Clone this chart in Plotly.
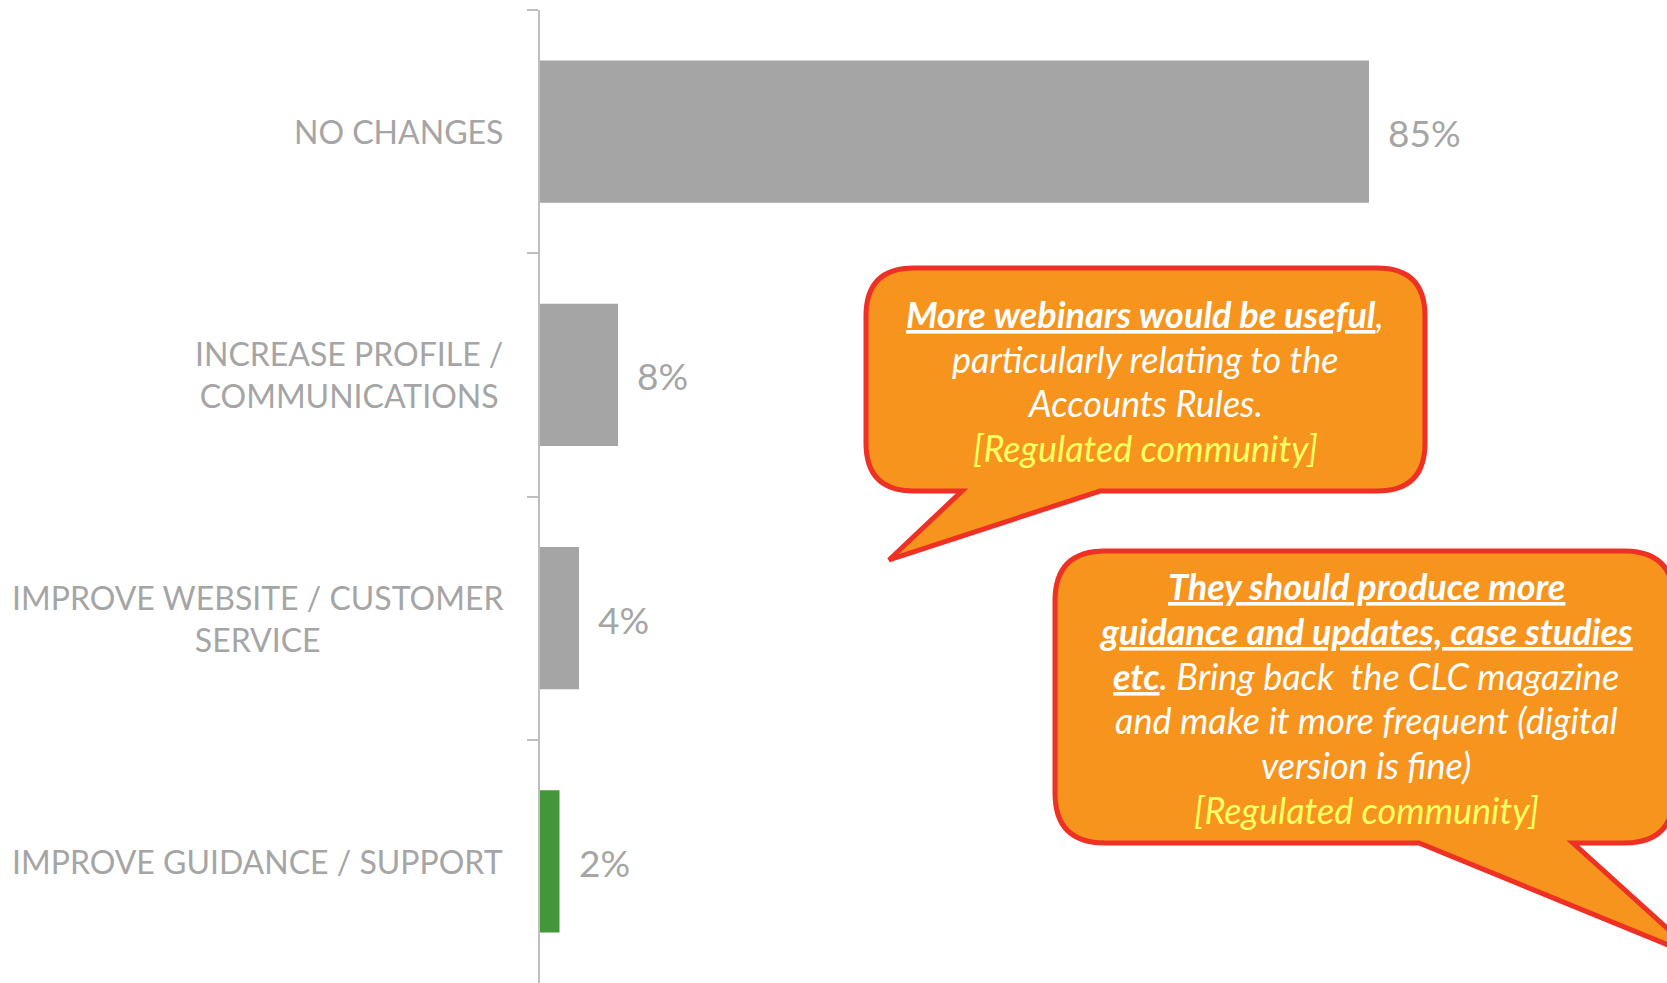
import plotly.graph_objects as go

categories = ["NO CHANGES",
              "INCREASE PROFILE /<br>COMMUNICATIONS",
              "IMPROVE WEBSITE / CUSTOMER<br>SERVICE",
              "IMPROVE GUIDANCE / SUPPORT"]
values = [85, 8, 4, 2]
value_labels = ["85%", "8%", "4%", "2%"]
bar_colors = ["#A5A5A5", "#A5A5A5", "#A5A5A5", "#43963A"]

YELLOW = "#FFFF66"
quote1_lines = ["<b><u>More webinars would be useful</u></b>,",
                "particularly relating to the",
                "Accounts Rules.",
                "<span style='color:%s'>[Regulated community]</span>" % YELLOW]
quote2_lines = ["<b><u>They should produce more</u></b>",
                "<b><u>guidance and updates, case studies</u></b>",
                "<b><u>etc</u></b>. Bring back\u00a0 the CLC magazine",
                "and make it more frequent (digital",
                "version is fine)",
                "<span style='color:%s'>[Regulated community]</span>" % YELLOW]

W, H = 1667, 983
L, T = 540, 10
PW, PH = W - L, H - T
GRAY = "#A5A5A5"
FONT = "Lato"


def to_paper(x, y):
    return (x - L) / PW, 1 - (y - T) / PH


def bubble(x0, y0, x1, y1, r, base_a, tip, base_b):
    pts = [
        ("M", [(x0 + r, y0)]), ("L", [(x1 - r, y0)]), ("Q", [(x1, y0), (x1, y0 + r)]),
        ("L", [(x1, y1 - r)]), ("Q", [(x1, y1), (x1 - r, y1)]),
        ("L", [(base_b, y1)]), ("L", [tip]), ("L", [(base_a, y1)]),
        ("L", [(x0 + r, y1)]), ("Q", [(x0, y1), (x0, y1 - r)]),
        ("L", [(x0, y0 + r)]), ("Q", [(x0, y0), (x0 + r, y0)]),
    ]
    out = []
    for cmd, coords in pts:
        out.append(cmd + " ".join("%.5f,%.5f" % to_paper(*c) for c in coords))
    return " ".join(out) + " Z"


fig = go.Figure(go.Bar(
    x=values, y=categories, orientation="h",
    marker=dict(color=bar_colors, line=dict(width=0)),
    width=0.585, hoverinfo="skip",
))

annotations = []
for cat in categories:
    annotations.append(dict(
        x=0, xref="paper", y=cat, yref="y", xanchor="right", yanchor="middle",
        xshift=-35, text=cat, showarrow=False, align="center",
        font=dict(family=FONT, size=32, color=GRAY)))
for v, lab, cat in zip(values, value_labels, categories):
    annotations.append(dict(
        x=v, xref="x", y=cat, yref="y", xanchor="left", yanchor="middle",
        xshift=17, yshift=-1, text=lab, showarrow=False,
        font=dict(family=FONT, size=37, color=GRAY)))


def quote(lines, cx, cy, step):
    y0 = cy - step * (len(lines) - 1) / 2
    for i, line in enumerate(lines):
        qx, qy = to_paper(cx, y0 + i * step)
        annotations.append(dict(
            x=qx, y=qy, xref="paper", yref="paper", xanchor="center",
            yanchor="middle", text=line, showarrow=False,
            font=dict(family=FONT, size=36, color="white", style="italic")))


quote(quote1_lines, 1145, 381, 44.7)
quote(quote2_lines, 1366, 698, 44.7)

shapes = [
    dict(type="path", xref="paper", yref="paper", layer="above",
         path=bubble(866, 268, 1425, 491, 48, 962, (889, 560), 1100),
         fillcolor="#F7941D", line=dict(color="#EE3124", width=5)),
    dict(type="path", xref="paper", yref="paper", layer="above",
         path=bubble(1055, 551, 1674, 843, 50, 1419, (1700, 958), 1573),
         fillcolor="#F7941D", line=dict(color="#EE3124", width=5)),
]

fig.update_layout(
    width=W, height=H,
    margin=dict(l=L, r=0, t=T, b=0),
    paper_bgcolor="white", plot_bgcolor="white",
    showlegend=False,
    xaxis=dict(range=[0, PW / 9.753], visible=False, fixedrange=True),
    yaxis=dict(type="category", categoryorder="array", categoryarray=categories,
               autorange="reversed", showticklabels=False, showgrid=False,
               showline=True, linecolor="#BFBFBF", linewidth=1.5,
               ticks="outside", tickson="boundaries", ticklen=11,
               tickcolor="#BFBFBF", tickwidth=1.5, zeroline=False, fixedrange=True),
    annotations=annotations,
    shapes=shapes,
)

fig.write_html("out.html", config={"displayModeBar": False},
               post_script="document.body.style.margin='0';")
